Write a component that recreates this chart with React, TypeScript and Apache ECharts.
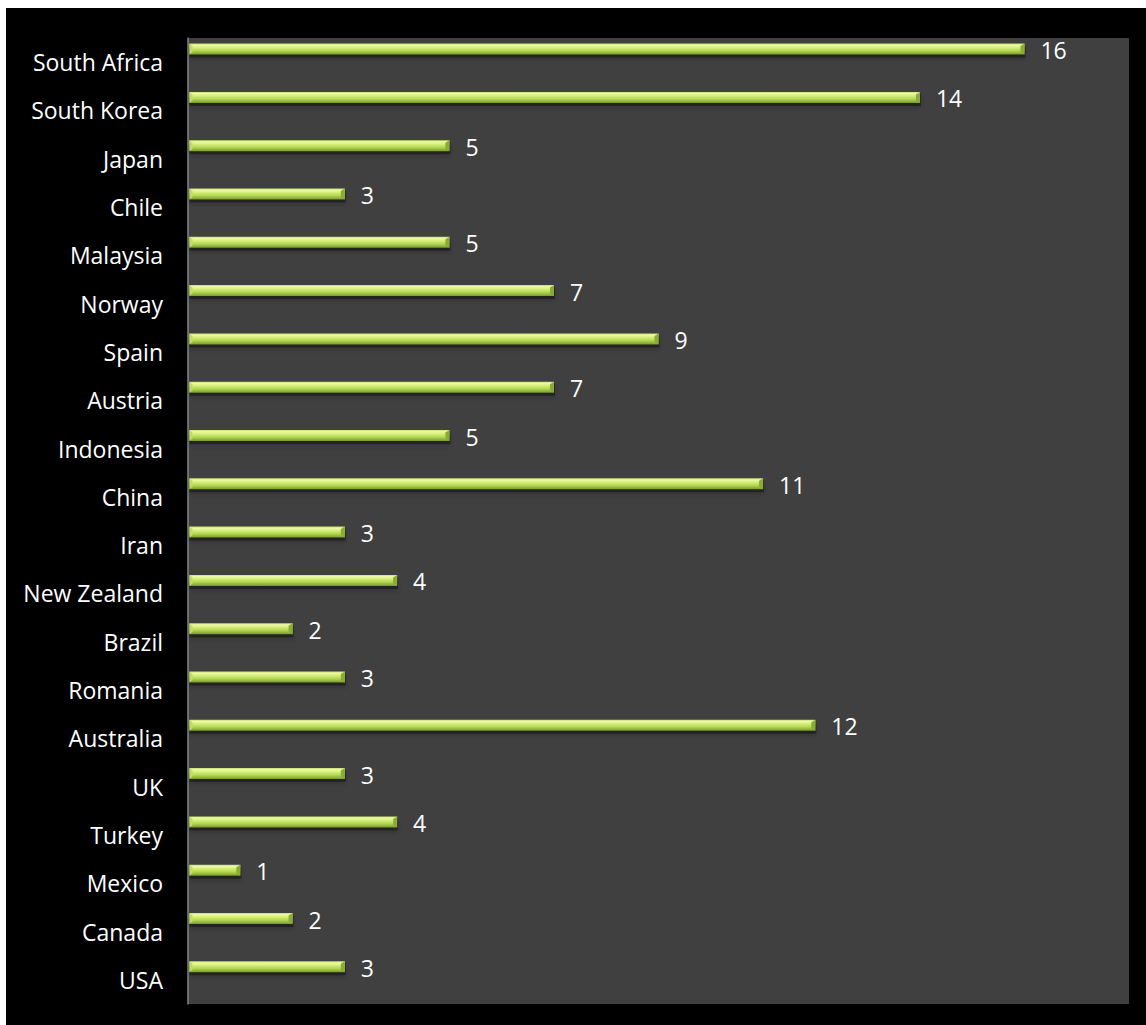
import React, { useEffect, useRef } from "react";
import * as echarts from "echarts";

const categories = [
  "USA", "Canada", "Mexico", "Turkey", "UK", "Australia", "Romania", "Brazil",
  "New Zealand", "Iran", "China", "Indonesia", "Austria", "Spain", "Norway",
  "Malaysia", "Chile", "Japan", "South Korea", "South Africa",
];
const values = [3, 2, 1, 4, 3, 12, 3, 2, 4, 3, 11, 5, 7, 9, 7, 5, 3, 5, 14, 16];
const axisMin = 0;
const axisMax = 18;

export default function App() {
  const ref = useRef<HTMLDivElement>(null);
  useEffect(() => {
    if (!ref.current) return;
    const chart = echarts.init(ref.current, null, { renderer: "svg" });
    const font = '23px "Open Sans"';
    chart.setOption({
      animation: false,
      backgroundColor: "#000000",
      grid: {
        left: 182,
        top: 30,
        right: 17,
        bottom: 21,
        show: true,
        backgroundColor: "#404040",
        borderWidth: 0,
      },
      xAxis: {
        type: "value",
        min: axisMin,
        max: axisMax,
        show: false,
      },
      yAxis: {
        type: "category",
        data: categories,
        axisLine: { show: true, lineStyle: { color: "#868686", width: 1.5 } },
        axisTick: { show: false },
        splitLine: { show: false },
        axisLabel: {
          color: "#ffffff",
          fontSize: 23,
          fontFamily: "Open Sans",
          margin: 25,
          padding: [0, 0, 4, 0],
        },
      },
      series: [
        {
          type: "custom",
          encode: { x: 0, y: 1 },
          data: values.map((v, i) => [v, i]),
          renderItem: (params: any, api: any) => {
            const v = api.value(0);
            const cat = api.value(1);
            const s = api.coord([0, cat]);
            const e = api.coord([v, cat]);
            const band = api.size([0, 1])[1];
            const h = 11;
            const yc = s[1] - band * 0.27;
            const top = yc - h / 2;
            const x0 = s[0] + 1.5;
            const x1 = e[0];
            const w = x1 - x0;
            return {
              type: "group",
              children: [
                {
                  type: "rect",
                  shape: { x: x0, y: top + 2, width: w + 1, height: h + 1 },
                  style: {
                    fill: "rgba(0,0,0,0.35)",
                    shadowBlur: 4,
                    shadowColor: "rgba(0,0,0,0.5)",
                    shadowOffsetY: 2,
                  },
                },
                {
                  type: "rect",
                  shape: { x: x0, y: top, width: w, height: h },
                  style: {
                    fill: new echarts.graphic.LinearGradient(0, 0, 0, 1, [
                      { offset: 0, color: "#c8e070" },
                      { offset: 0.15, color: "#eefaa6" },
                      { offset: 0.35, color: "#d6ef7c" },
                      { offset: 0.65, color: "#b2d652" },
                      { offset: 1, color: "#7a9a2a" },
                    ]),
                  },
                },
                {
                  type: "polygon",
                  shape: {
                    points: [
                      [x1 - 4, top + 2.5],
                      [x1, top],
                      [x1, top + h],
                      [x1 - 4, top + h - 2.5],
                    ],
                  },
                  style: { fill: "#8aab34" },
                },
                {
                  type: "polygon",
                  shape: {
                    points: [
                      [x0, top],
                      [x0 + 3, top + 2.5],
                      [x0 + 3, top + h - 2.5],
                      [x0, top + h],
                    ],
                  },
                  style: { fill: "#c0de66" },
                },
                {
                  type: "text",
                  x: x1 + 16,
                  y: yc + 1,
                  style: {
                    text: String(v),
                    fill: "#ffffff",
                    font: font,
                    align: "left",
                    verticalAlign: "middle",
                  },
                },
              ],
            };
          },
        },
      ],
    });
    return () => chart.dispose();
  }, []);
  return (
    <div
      ref={ref}
      style={{ position: "fixed", left: 6, top: 8, width: 1140, height: 1017 }}
    />
  );
}
